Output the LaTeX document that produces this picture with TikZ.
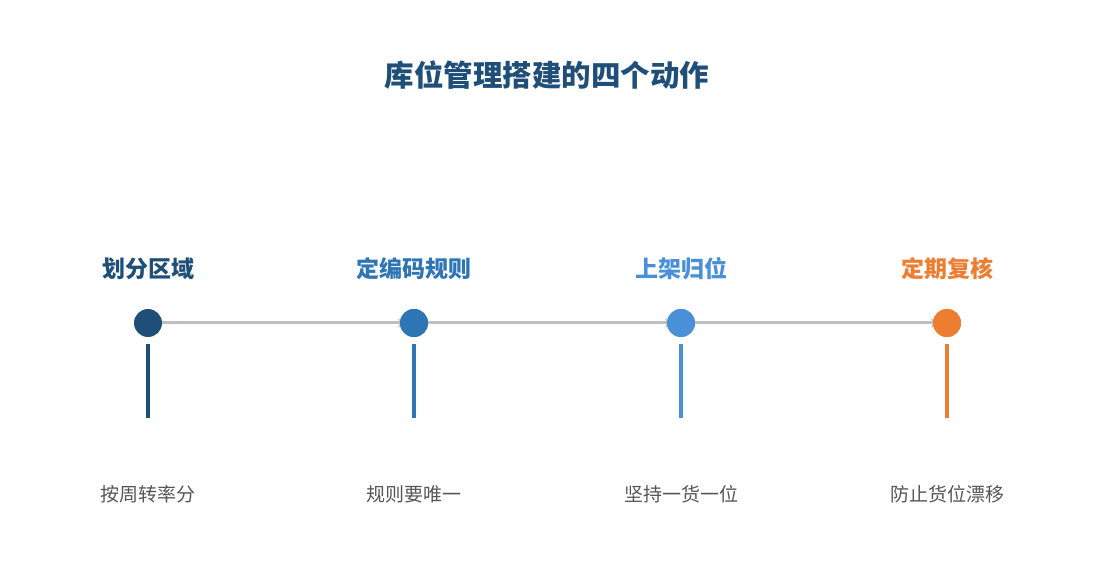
\documentclass[tikz,border=0pt]{standalone}
\usepackage{fontspec}
\setmainfont{Noto Sans CJK SC}
\usetikzlibrary{arrows.meta}
\definecolor{stepA}{HTML}{1F4E79}
\definecolor{stepB}{HTML}{2E75B6}
\definecolor{stepC}{HTML}{4A90D9}
\definecolor{stepD}{HTML}{ED7D31}
\definecolor{linkgray}{HTML}{BFBFBF}
\definecolor{notegray}{HTML}{555555}
\begin{document}
\begin{tikzpicture}[x=1pt,y=-1pt,
    dot/.style={circle,fill=#1,minimum size=28pt,inner sep=0pt},
    head/.style={font=\fontsize{23}{26}\selectfont\bfseries,text=#1},
    note/.style={font=\fontsize{19}{22}\selectfont,text=notegray},
    stem/.style={line width=4pt,draw=#1},
    link/.style={draw=linkgray,line width=3pt,-{Stealth[length=8pt,width=9pt]}}]
            \useasboundingbox (0,0) rectangle (1095,585);
            \node[font=\fontsize{29.5}{33}\selectfont\bfseries,text=stepA] (title) at (547,75) {库位管理搭建的四个动作};
            % the four steps
            \node[dot=stepA] (d1) at (148,323) {};
            \node[dot=stepB] (d2) at (414,323) {};
            \node[dot=stepC] (d3) at (681,323) {};
            \node[dot=stepD] (d4) at (947,323) {};
            \node[head=stepA] (h1) at (148,269) {划分区域};
            \node[head=stepB] (h2) at (414,269) {定编码规则};
            \node[head=stepC] (h3) at (681,269) {上架归位};
            \node[head=stepD] (h4) at (947,269) {定期复核};
            \node[note] (n1) at (148,494) {按周转率分};
            \node[note] (n2) at (414,494) {规则要唯一};
            \node[note] (n3) at (681,494) {坚持一货一位};
            \node[note] (n4) at (947,494) {防止货位漂移};
            \coordinate (s1) at (148,344); \coordinate (e1) at (148,418);
            \coordinate (s2) at (414,344); \coordinate (e2) at (414,418);
            \coordinate (s3) at (681,344); \coordinate (e3) at (681,418);
            \coordinate (s4) at (947,344); \coordinate (e4) at (947,418);
            \draw[stem=stepA] (s1) -- (e1);
            \draw[stem=stepB] (s2) -- (e2);
            \draw[stem=stepC] (s3) -- (e3);
            \draw[stem=stepD] (s4) -- (e4);
            % arrows run under the next dot
            \path[link] (d1.east) -- ([xshift=6pt]d2.west);
            \path[link] (d2.east) -- ([xshift=6pt]d3.west);
            \path[link] (d3.east) -- ([xshift=6pt]d4.west);
            \node[dot=stepB] at (d2) {};
            \node[dot=stepC] at (d3) {};
            \node[dot=stepD] at (d4) {};
        \end{tikzpicture}
\end{document}
